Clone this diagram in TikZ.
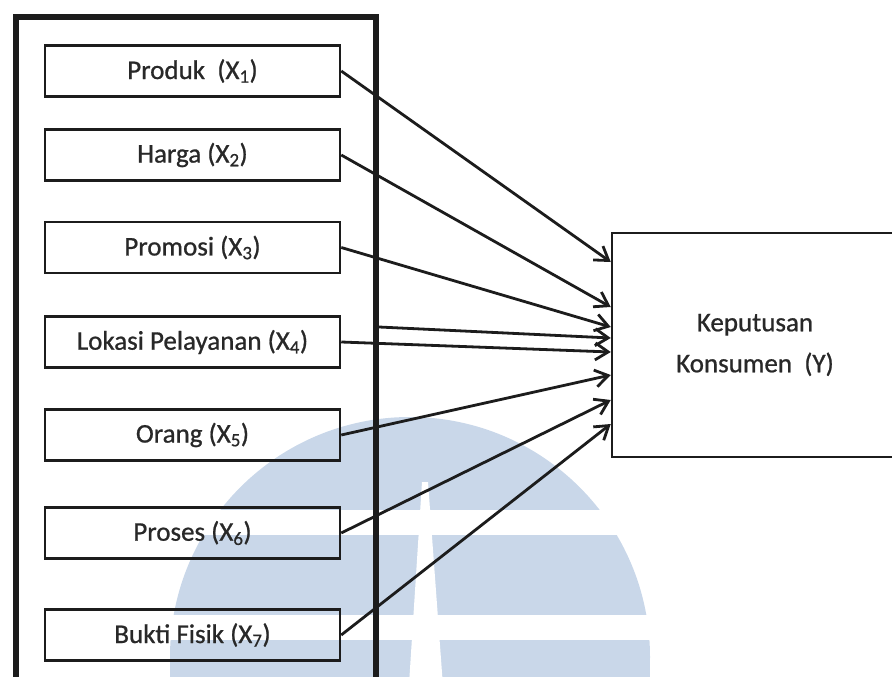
\documentclass[tikz,border=0pt]{standalone}
\usepackage{fontspec}
\setmainfont{Carlito}[FakeBold=0.8]
\usetikzlibrary{arrows.meta}
\definecolor{wm}{RGB}{201,215,233}
\definecolor{ink}{RGB}{28,28,28}
\definecolor{txt}{RGB}{40,40,40}
\tikzset{
  var/.style={draw=ink, line width=2.5pt, minimum width=295pt, minimum height=51pt,
    inner sep=0pt, font=\fontsize{27}{32}\selectfont, text=txt},
  outcome/.style={draw=ink, line width=2.5pt, minimum width=286pt, minimum height=224pt,
    align=center, inner sep=0pt, font=\fontsize{27}{41}\selectfont, text=txt},
  outerbox/.style={draw=ink, line width=6pt, minimum width=360pt, minimum height=703pt, inner sep=0pt},
  link/.style={draw=ink, line width=2.8pt, -{Straight Barb[length=13pt,width=17pt]}}
}
\begin{document}
\begin{tikzpicture}[x=1pt,y=-1pt]
\useasboundingbox (0,0) rectangle (892,677);
% watermark
\fill[wm] (410,657) circle[radius=240pt];
\fill[wm] (170,657) rectangle (650,700);
\fill[white] (150,510) rectangle (670,535);
\fill[white] (150,615) rectangle (670,640);
\fill[white] (422,482) -- (428,482) -- (444,700) -- (408,700) -- cycle;
% outer frame
\node[outerbox] (frm) at (196,368.5) {};
% variables
\node[var] (x1) at (192.5,71)  {Produk\ \ (X\textsubscript{1})};
\node[var] (x2) at (192.5,155) {Harga (X\textsubscript{2})};
\node[var] (x3) at (192.5,247.5) {Promosi (X\textsubscript{3})};
\node[var] (x4) at (192.5,342) {Lokasi Pelayanan (X\textsubscript{4})};
\node[var] (x5) at (192.5,435) {Orang (X\textsubscript{5})};
\node[var] (x6) at (192.5,533) {Proses (X\textsubscript{6})};
\node[var] (x7) at (192.5,635) {Bukti Fisik (X\textsubscript{7})};
% outcome
\node[outcome] (y) at (755,345) {Keputusan\\Konsumen\ \ (Y)};
% arrows
\draw[link] (x1.east) -- ([yshift=83pt]y.west);
\draw[link] (x2.east) -- ([yshift=38pt]y.west);
\draw[link] (x3.east) -- ([yshift=18pt]y.west);
\draw[link] ([yshift=41.5pt]frm.east) -- ([yshift=7pt]y.west);
\draw[link] (x4.east) -- ([yshift=-7pt]y.west);
\draw[link] (x5.east) -- ([yshift=-30pt]y.west);
\draw[link] (x6.east) -- ([yshift=-55pt]y.west);
\draw[link] (x7.east) -- ([yshift=-79pt]y.west);
\end{tikzpicture}
\end{document}
